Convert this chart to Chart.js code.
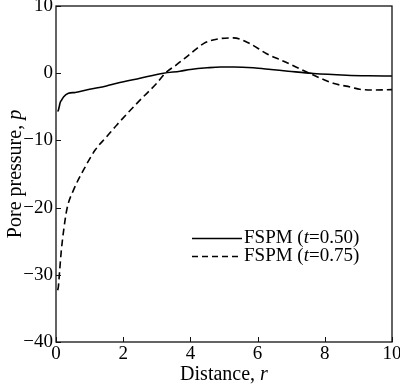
<!DOCTYPE html>
<html>
<head>
<meta charset="utf-8">
<script src="https://cdn.jsdelivr.net/npm/chart.js@4.4.1/dist/chart.umd.min.js"></script>
<style>
html,body{margin:0;padding:0;background:#fff;}
#wrap{width:400px;height:385px;}
</style>
</head>
<body>
<div id="wrap"><canvas id="c" width="400" height="385"></canvas></div>
<script>
// ---- data ----
const seriesNames = ["0.50", "0.75"];
const xTicks = [0, 2, 4, 6, 8, 10];
const yTicks = [-40, -30, -20, -10, 0, 10];

const r050 = [0.05, 0.07, 0.13, 0.18, 0.23, 0.37, 0.57, 1.0, 1.5, 1.81, 2.5, 3.2, 3.69, 4.0, 4.5, 4.9, 5.3, 5.87, 6.4, 6.91, 7.66, 8.65, 9.3, 10.0];
const p050 = [-5.7, -5.5, -4.3, -3.9, -3.5, -3.0, -2.86, -2.4, -1.9, -1.5, -0.75, 0.0, 0.3, 0.55, 0.8, 0.92, 0.92, 0.8, 0.55, 0.3, -0.05, -0.3, -0.38, -0.42];

const r075 = [0.05, 0.07, 0.11, 0.16, 0.23, 0.33, 0.52, 0.82, 1.17, 1.5, 1.81, 2.5, 3.0, 3.25, 3.6, 4.0, 4.39, 4.88, 5.28, 5.77, 6.27, 6.81, 7.56, 8.25, 8.8, 9.04, 9.5, 10.0];
const p075 = [-32.3, -31.8, -29.3, -26.3, -23.3, -20.1, -17.4, -14.4, -11.4, -9.5, -7.7, -4.0, -1.5, 0.0, 1.3, 2.9, 4.4, 5.15, 5.25, 4.4, 2.9, 1.7, -0.05, -1.5, -2.1, -2.4, -2.5, -2.45];

const toPts = (xs, ys) => xs.map((x, i) => ({x: x, y: ys[i]}));

const SERIF = '"Liberation Serif", "Times New Roman", serif';
const DASH = [7, 4];

// draw mixed roman/italic text pieces
function drawPieces(ctx, pieces, size, x, y, align) {
  let total = 0;
  pieces.forEach(p => {
    ctx.font = (p.i ? 'italic ' : '') + size + 'px ' + SERIF;
    p.w = ctx.measureText(p.t).width;
    total += p.w;
  });
  let cx = align === 'center' ? x - total / 2 : x;
  pieces.forEach(p => {
    ctx.font = (p.i ? 'italic ' : '') + size + 'px ' + SERIF;
    ctx.fillText(p.t, cx, y);
    cx += p.w;
  });
}

const decor = {
  id: 'decor',
  afterDraw(chart) {
    const ctx = chart.ctx;
    const a = chart.chartArea;
    const xs = chart.scales.x, ys = chart.scales.y;
    ctx.save();
    // frame
    ctx.strokeStyle = '#111';
    ctx.lineWidth = 1.3;
    ctx.setLineDash([]);
    ctx.strokeRect(a.left, a.top, a.right - a.left, a.bottom - a.top);
    // inward ticks
    ctx.lineWidth = 1;
    ctx.beginPath();
    xTicks.forEach(v => {
      const px = Math.round(xs.getPixelForValue(v)) + 0.5;
      ctx.moveTo(px, a.bottom);
      ctx.lineTo(px, a.bottom - 5);
    });
    yTicks.forEach(v => {
      const py = Math.round(ys.getPixelForValue(v)) + 0.5;
      ctx.moveTo(a.left, py);
      ctx.lineTo(a.left + 5, py);
    });
    ctx.stroke();

    ctx.fillStyle = '#000';
    ctx.textBaseline = 'alphabetic';
    // x title
    drawPieces(ctx, [{t: 'Distance, '}, {t: 'r', i: true}], 20, (a.left + a.right) / 2, 380, 'center');
    // y title
    ctx.save();
    ctx.translate(21, (a.top + a.bottom) / 2);
    ctx.rotate(-Math.PI / 2);
    drawPieces(ctx, [{t: 'Pore pressure, '}, {t: 'p', i: true}], 20, 0, 0, 'center');
    ctx.restore();

    // legend
    const lx0 = a.left + 136, lx1 = a.left + 186, tx = a.left + 188;
    const rows = [238.5, 256.5];
    chart.data.datasets.forEach((ds, i) => {
      const y = rows[i];
      ctx.strokeStyle = '#000';
      ctx.lineWidth = 1.5;
      ctx.setLineDash(ds.borderDash ? [6, 4] : []);
      ctx.beginPath();
      ctx.moveTo(lx0, y);
      ctx.lineTo(lx1, y);
      ctx.stroke();
      ctx.setLineDash([]);
      drawPieces(ctx, [{t: 'FSPM ('}, {t: 't', i: true}, {t: '=' + seriesNames[i] + ')'}], 19, tx, y + 4, 'left');
    });
    ctx.restore();
  }
};

new Chart(document.getElementById('c'), {
  type: 'line',
  data: {
    datasets: [
      {label: 'FSPM (t=' + seriesNames[0] + ')', data: toPts(r050, p050), borderColor: '#000', borderWidth: 1.6, pointRadius: 0, cubicInterpolationMode: 'monotone', fill: false},
      {label: 'FSPM (t=' + seriesNames[1] + ')', data: toPts(r075, p075), borderColor: '#000', borderWidth: 1.6, borderDash: DASH, pointRadius: 0, cubicInterpolationMode: 'monotone', fill: false}
    ]
  },
  options: {
    responsive: false,
    animation: false,
    devicePixelRatio: 1,
    layout: {padding: {top: 6, right: 8, left: 0, bottom: 0}},
    plugins: {legend: {display: false}, tooltip: {enabled: false}},
    scales: {
      x: {
        type: 'linear', min: 0, max: 10,
        afterBuildTicks: s => { s.ticks = xTicks.map(v => ({value: v})); },
        afterFit: s => { s.height = 43; s.paddingLeft = 0; s.paddingRight = 0; },
        grid: {display: false, drawTicks: false},
        border: {display: false},
        ticks: {padding: 1, color: '#000', font: {family: SERIF, size: 19}, maxRotation: 0}
      },
      y: {
        type: 'linear', min: -40, max: 10,
        afterBuildTicks: s => { s.ticks = yTicks.map(v => ({value: v})); },
        afterFit: s => { s.width = 56; s.paddingTop = 0; s.paddingBottom = 0; },
        grid: {display: false, drawTicks: false},
        border: {display: false},
        ticks: {padding: 3, color: '#000', font: {family: SERIF, size: 19},
          callback: v => String(v).replace('-', '\u2212')}
      }
    }
  },
  plugins: [decor]
});
</script>
</body>
</html>
